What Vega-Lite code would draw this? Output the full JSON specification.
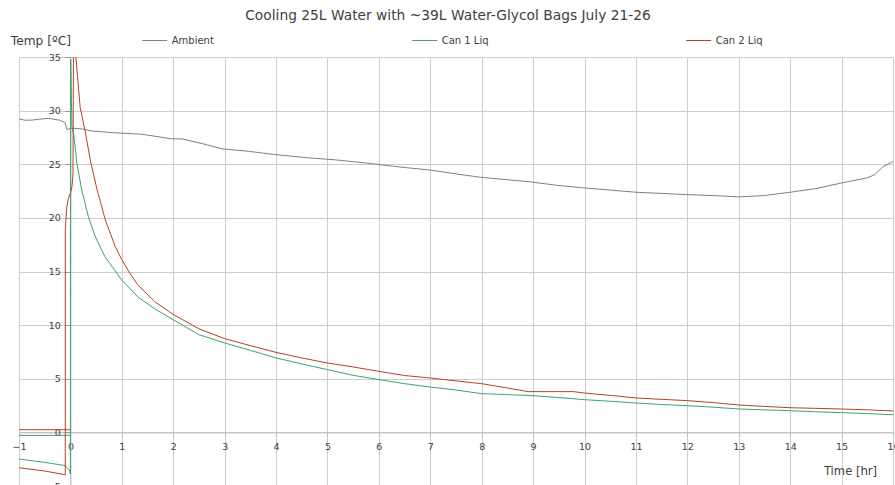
{
  "$schema": "https://vega.github.io/schema/vega-lite/v6.json",
  "width": 874,
  "height": 429,
  "autosize": "none",
  "padding": {"left": 19, "top": 57, "right": 2, "bottom": 0},
  "background": "white",
  "title": {
    "text": "Cooling 25L Water with ~39L Water-Glycol Bags July 21-26",
    "font": "DejaVu Sans",
    "fontSize": 13.8,
    "fontWeight": "normal",
    "color": "#404040",
    "anchor": "middle",
    "frame": "group",
    "dx": -8,
    "offset": 5
  },
  "config": {
    "view": {"stroke": null},
    "font": "DejaVu Sans"
  },
  "data": {
    "values": [
      {"s":"Ambient","k":"a","i":0,"t":-1,"v":29.23},
      {"s":"Ambient","k":"a","i":1,"t":-0.88,"v":29.1},
      {"s":"Ambient","k":"a","i":2,"t":-0.75,"v":29.12},
      {"s":"Ambient","k":"a","i":3,"t":-0.6,"v":29.2},
      {"s":"Ambient","k":"a","i":4,"t":-0.43,"v":29.28},
      {"s":"Ambient","k":"a","i":5,"t":-0.2,"v":29.1},
      {"s":"Ambient","k":"a","i":6,"t":-0.1,"v":28.85},
      {"s":"Ambient","k":"a","i":7,"t":-0.07,"v":28.24},
      {"s":"Ambient","k":"a","i":8,"t":0.03,"v":28.36},
      {"s":"Ambient","k":"a","i":9,"t":0.22,"v":28.3},
      {"s":"Ambient","k":"a","i":10,"t":0.42,"v":28.1},
      {"s":"Ambient","k":"a","i":11,"t":0.87,"v":27.93},
      {"s":"Ambient","k":"a","i":12,"t":1.39,"v":27.8},
      {"s":"Ambient","k":"a","i":13,"t":1.97,"v":27.37},
      {"s":"Ambient","k":"a","i":14,"t":2.17,"v":27.37},
      {"s":"Ambient","k":"a","i":15,"t":2.56,"v":26.93},
      {"s":"Ambient","k":"a","i":16,"t":2.95,"v":26.44},
      {"s":"Ambient","k":"a","i":17,"t":3.46,"v":26.21},
      {"s":"Ambient","k":"a","i":18,"t":3.98,"v":25.9},
      {"s":"Ambient","k":"a","i":19,"t":4.63,"v":25.6},
      {"s":"Ambient","k":"a","i":20,"t":5.15,"v":25.41},
      {"s":"Ambient","k":"a","i":21,"t":5.73,"v":25.13},
      {"s":"Ambient","k":"a","i":22,"t":6.38,"v":24.76},
      {"s":"Ambient","k":"a","i":23,"t":7.03,"v":24.44},
      {"s":"Ambient","k":"a","i":24,"t":7.5,"v":24.1},
      {"s":"Ambient","k":"a","i":25,"t":7.97,"v":23.79},
      {"s":"Ambient","k":"a","i":26,"t":8.94,"v":23.36},
      {"s":"Ambient","k":"a","i":27,"t":9.46,"v":23.04},
      {"s":"Ambient","k":"a","i":28,"t":9.98,"v":22.8},
      {"s":"Ambient","k":"a","i":29,"t":11.0,"v":22.39},
      {"s":"Ambient","k":"a","i":30,"t":11.99,"v":22.17},
      {"s":"Ambient","k":"a","i":31,"t":12.5,"v":22.08},
      {"s":"Ambient","k":"a","i":32,"t":13.0,"v":21.96},
      {"s":"Ambient","k":"a","i":33,"t":13.5,"v":22.08},
      {"s":"Ambient","k":"a","i":34,"t":14.0,"v":22.39},
      {"s":"Ambient","k":"a","i":35,"t":14.5,"v":22.73},
      {"s":"Ambient","k":"a","i":36,"t":15.0,"v":23.26},
      {"s":"Ambient","k":"a","i":37,"t":15.5,"v":23.73},
      {"s":"Ambient","k":"a","i":38,"t":15.65,"v":24.04},
      {"s":"Ambient","k":"a","i":39,"t":15.8,"v":24.76},
      {"s":"Ambient","k":"a","i":40,"t":16.0,"v":25.25},

      {"s":"Can 1 Liq","k":"g1","i":0,"t":-1,"v":-0.28},
      {"s":"Can 1 Liq","k":"g1","i":1,"t":0,"v":-0.28},
      {"s":"Can 1 Liq","k":"g2","i":0,"t":-1,"v":-2.48},
      {"s":"Can 1 Liq","k":"g2","i":1,"t":-0.5,"v":-2.8},
      {"s":"Can 1 Liq","k":"g2","i":2,"t":-0.1,"v":-3.1},
      {"s":"Can 1 Liq","k":"g2","i":3,"t":-0.02,"v":-3.5},
      {"s":"Can 1 Liq","k":"g2","i":4,"t":0.0,"v":-3.9},
      {"s":"Can 1 Liq","k":"g2","i":5,"t":0.005,"v":34.8},
      {"s":"Can 1 Liq","k":"g2","i":6,"t":0.03,"v":28.5},
      {"s":"Can 1 Liq","k":"g2","i":7,"t":0.06,"v":27.9},
      {"s":"Can 1 Liq","k":"g2","i":8,"t":0.09,"v":26.7},
      {"s":"Can 1 Liq","k":"g2","i":9,"t":0.125,"v":25.1},
      {"s":"Can 1 Liq","k":"g2","i":10,"t":0.22,"v":22.6},
      {"s":"Can 1 Liq","k":"g2","i":11,"t":0.35,"v":20.1},
      {"s":"Can 1 Liq","k":"g2","i":12,"t":0.48,"v":18.3},
      {"s":"Can 1 Liq","k":"g2","i":13,"t":0.67,"v":16.4},
      {"s":"Can 1 Liq","k":"g2","i":14,"t":1.0,"v":14.2},
      {"s":"Can 1 Liq","k":"g2","i":15,"t":1.32,"v":12.6},
      {"s":"Can 1 Liq","k":"g2","i":16,"t":1.65,"v":11.5},
      {"s":"Can 1 Liq","k":"g2","i":17,"t":2.0,"v":10.5},
      {"s":"Can 1 Liq","k":"g2","i":18,"t":2.5,"v":9.11},
      {"s":"Can 1 Liq","k":"g2","i":19,"t":3.0,"v":8.34},
      {"s":"Can 1 Liq","k":"g2","i":20,"t":3.5,"v":7.65},
      {"s":"Can 1 Liq","k":"g2","i":21,"t":4.0,"v":6.94},
      {"s":"Can 1 Liq","k":"g2","i":22,"t":4.5,"v":6.38},
      {"s":"Can 1 Liq","k":"g2","i":23,"t":5.0,"v":5.85},
      {"s":"Can 1 Liq","k":"g2","i":24,"t":5.5,"v":5.32},
      {"s":"Can 1 Liq","k":"g2","i":25,"t":6.0,"v":4.92},
      {"s":"Can 1 Liq","k":"g2","i":26,"t":6.5,"v":4.54},
      {"s":"Can 1 Liq","k":"g2","i":27,"t":7.0,"v":4.23},
      {"s":"Can 1 Liq","k":"g2","i":28,"t":7.5,"v":3.95},
      {"s":"Can 1 Liq","k":"g2","i":29,"t":8.0,"v":3.61},
      {"s":"Can 1 Liq","k":"g2","i":30,"t":8.5,"v":3.52},
      {"s":"Can 1 Liq","k":"g2","i":31,"t":9.0,"v":3.42},
      {"s":"Can 1 Liq","k":"g2","i":32,"t":9.5,"v":3.25},
      {"s":"Can 1 Liq","k":"g2","i":33,"t":10.0,"v":3.05},
      {"s":"Can 1 Liq","k":"g2","i":34,"t":10.5,"v":2.9},
      {"s":"Can 1 Liq","k":"g2","i":35,"t":11.0,"v":2.74},
      {"s":"Can 1 Liq","k":"g2","i":36,"t":11.5,"v":2.6},
      {"s":"Can 1 Liq","k":"g2","i":37,"t":12.0,"v":2.49},
      {"s":"Can 1 Liq","k":"g2","i":38,"t":12.5,"v":2.35},
      {"s":"Can 1 Liq","k":"g2","i":39,"t":13.0,"v":2.18},
      {"s":"Can 1 Liq","k":"g2","i":40,"t":13.5,"v":2.1},
      {"s":"Can 1 Liq","k":"g2","i":41,"t":14.0,"v":2.02},
      {"s":"Can 1 Liq","k":"g2","i":42,"t":14.5,"v":1.92},
      {"s":"Can 1 Liq","k":"g2","i":43,"t":15.0,"v":1.84},
      {"s":"Can 1 Liq","k":"g2","i":44,"t":15.5,"v":1.75},
      {"s":"Can 1 Liq","k":"g2","i":45,"t":16.0,"v":1.65},

      {"s":"Can 2 Liq","k":"b1","i":0,"t":-1,"v":0.25},
      {"s":"Can 2 Liq","k":"b1","i":1,"t":0,"v":0.25},
      {"s":"Can 2 Liq","k":"b2","i":0,"t":-1,"v":-3.3},
      {"s":"Can 2 Liq","k":"b2","i":1,"t":-0.5,"v":-3.6},
      {"s":"Can 2 Liq","k":"b2","i":2,"t":-0.1,"v":-3.95},
      {"s":"Can 2 Liq","k":"b2","i":3,"t":-0.1,"v":18.9},
      {"s":"Can 2 Liq","k":"b2","i":4,"t":-0.07,"v":21.0},
      {"s":"Can 2 Liq","k":"b2","i":5,"t":-0.04,"v":21.8},
      {"s":"Can 2 Liq","k":"b2","i":6,"t":0.0,"v":22.3},
      {"s":"Can 2 Liq","k":"b2","i":7,"t":0.03,"v":22.9},
      {"s":"Can 2 Liq","k":"b2","i":8,"t":0.05,"v":24.0},
      {"s":"Can 2 Liq","k":"b2","i":9,"t":0.06,"v":36.5},
      {"s":"Can 2 Liq","k":"b2","i":10,"t":0.08,"v":37.0},
      {"s":"Can 2 Liq","k":"b2","i":11,"t":0.105,"v":35.07},
      {"s":"Can 2 Liq","k":"b2","i":12,"t":0.19,"v":30.3},
      {"s":"Can 2 Liq","k":"b2","i":13,"t":0.29,"v":28.0},
      {"s":"Can 2 Liq","k":"b2","i":14,"t":0.39,"v":25.3},
      {"s":"Can 2 Liq","k":"b2","i":15,"t":0.52,"v":22.6},
      {"s":"Can 2 Liq","k":"b2","i":16,"t":0.68,"v":19.8},
      {"s":"Can 2 Liq","k":"b2","i":17,"t":0.87,"v":17.35},
      {"s":"Can 2 Liq","k":"b2","i":18,"t":1.0,"v":16.1},
      {"s":"Can 2 Liq","k":"b2","i":19,"t":1.16,"v":14.8},
      {"s":"Can 2 Liq","k":"b2","i":20,"t":1.32,"v":13.7},
      {"s":"Can 2 Liq","k":"b2","i":21,"t":1.65,"v":12.15},
      {"s":"Can 2 Liq","k":"b2","i":22,"t":2.0,"v":11.0},
      {"s":"Can 2 Liq","k":"b2","i":23,"t":2.5,"v":9.65},
      {"s":"Can 2 Liq","k":"b2","i":24,"t":3.0,"v":8.74},
      {"s":"Can 2 Liq","k":"b2","i":25,"t":3.5,"v":8.09},
      {"s":"Can 2 Liq","k":"b2","i":26,"t":4.0,"v":7.46},
      {"s":"Can 2 Liq","k":"b2","i":27,"t":4.5,"v":6.94},
      {"s":"Can 2 Liq","k":"b2","i":28,"t":5.0,"v":6.47},
      {"s":"Can 2 Liq","k":"b2","i":29,"t":5.5,"v":6.1},
      {"s":"Can 2 Liq","k":"b2","i":30,"t":6.0,"v":5.69},
      {"s":"Can 2 Liq","k":"b2","i":31,"t":6.5,"v":5.3},
      {"s":"Can 2 Liq","k":"b2","i":32,"t":7.0,"v":5.07},
      {"s":"Can 2 Liq","k":"b2","i":33,"t":7.5,"v":4.8},
      {"s":"Can 2 Liq","k":"b2","i":34,"t":8.0,"v":4.54},
      {"s":"Can 2 Liq","k":"b2","i":35,"t":8.5,"v":4.14},
      {"s":"Can 2 Liq","k":"b2","i":36,"t":8.9,"v":3.8},
      {"s":"Can 2 Liq","k":"b2","i":37,"t":9.78,"v":3.8},
      {"s":"Can 2 Liq","k":"b2","i":38,"t":10.0,"v":3.67},
      {"s":"Can 2 Liq","k":"b2","i":39,"t":10.5,"v":3.45},
      {"s":"Can 2 Liq","k":"b2","i":40,"t":11.0,"v":3.21},
      {"s":"Can 2 Liq","k":"b2","i":41,"t":11.5,"v":3.08},
      {"s":"Can 2 Liq","k":"b2","i":42,"t":12.0,"v":2.96},
      {"s":"Can 2 Liq","k":"b2","i":43,"t":12.5,"v":2.78},
      {"s":"Can 2 Liq","k":"b2","i":44,"t":13.0,"v":2.55},
      {"s":"Can 2 Liq","k":"b2","i":45,"t":13.5,"v":2.42},
      {"s":"Can 2 Liq","k":"b2","i":46,"t":14.0,"v":2.3},
      {"s":"Can 2 Liq","k":"b2","i":47,"t":14.5,"v":2.24},
      {"s":"Can 2 Liq","k":"b2","i":48,"t":15.0,"v":2.18},
      {"s":"Can 2 Liq","k":"b2","i":49,"t":15.5,"v":2.1},
      {"s":"Can 2 Liq","k":"b2","i":50,"t":16.0,"v":2.0}
    ]
  },
  "mark": {"type": "line", "strokeWidth": 1, "clip": true, "interpolate": "linear"},
  "encoding": {
    "x": {
      "field": "t",
      "type": "quantitative",
      "scale": {"domain": [-1, 16], "nice": false, "zero": false},
      "axis": {
        "orient": "bottom",
        "offset": -53.6,
        "values": [-1,0,1,2,3,4,5,6,7,8,9,10,11,12,13,14,15,16],
        "format": "d",
        "grid": true,
        "gridColor": "#cccccc",
        "gridWidth": 1,
        "domainColor": "#bfbfbf",
        "tickColor": "#bfbfbf",
        "tickSize": 4,
        "labelPadding": 5,
        "labelFont": "DejaVu Sans",
        "labelFontSize": 9.5,
        "labelColor": "#404040",
        "labelFlush": false,
        "labelOverlap": false,
        "title": "Time [hr]",
        "titleFont": "DejaVu Sans",
        "titleFontSize": 11.6,
        "titleFontWeight": "normal",
        "titleColor": "#404040",
        "titleX": 831,
        "titleY": 39.5,
        "titleAlign": "center",
        "titleBaseline": "middle"
      }
    },
    "y": {
      "field": "v",
      "type": "quantitative",
      "scale": {"domain": [-5, 35], "nice": false, "zero": false},
      "axis": {
        "orient": "left",
        "offset": -51.4,
        "values": [-5,0,5,10,15,20,25,30,35],
        "grid": true,
        "gridColor": "#cccccc",
        "gridWidth": 1,
        "domainColor": "#bfbfbf",
        "tickColor": "#999999",
        "tickSize": 6,
        "labelPadding": 4,
        "labelFont": "DejaVu Sans",
        "labelFontSize": 9.5,
        "labelColor": "#404040",
        "labelFlush": false,
        "labelOverlap": false,
        "title": "Temp [ºC]",
        "titleFont": "DejaVu Sans",
        "titleFontSize": 12.2,
        "titleFontWeight": "normal",
        "titleColor": "#404040",
        "titleAngle": 0,
        "titleX": -30,
        "titleY": -17,
        "titleAlign": "center",
        "titleBaseline": "middle"
      }
    },
    "color": {
      "field": "s",
      "type": "nominal",
      "scale": {"domain": ["Ambient", "Can 1 Liq", "Can 2 Liq"], "range": ["#808080", "#3aa56c", "#b5441b"]},
      "legend": {
        "title": null,
        "orient": "none",
        "legendX": 122.7,
        "legendY": -29.5,
        "direction": "horizontal",
        "columnPadding": 195,
        "padding": 0,
        "symbolType": "stroke",
        "symbolSize": 625,
        "symbolStrokeWidth": 1,
        "labelOffset": 4,
        "labelFont": "DejaVu Sans",
        "labelFontSize": 10,
        "labelColor": "#404040"
      }
    },
    "detail": {"field": "k"},
    "order": {"field": "i", "type": "quantitative"}
  }
}
